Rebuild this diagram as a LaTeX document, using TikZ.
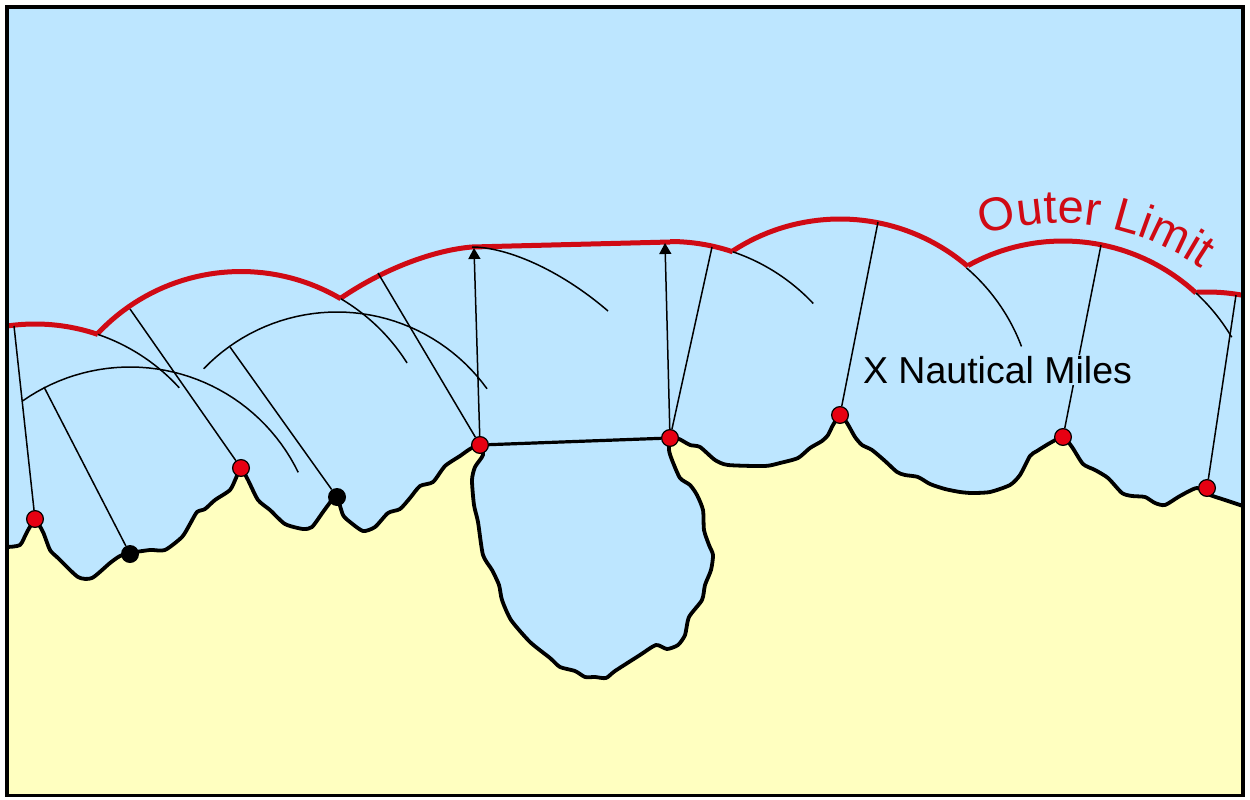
\documentclass[tikz,border=0pt]{standalone}
\usepackage{fontspec}
\setmainfont{Liberation Sans}
\usetikzlibrary{arrows.meta,decorations.text}
\definecolor{seablue}{HTML}{BDE6FF}
\definecolor{landyellow}{HTML}{FFFFC0}
\definecolor{limitred}{HTML}{D00A14}
\definecolor{ptred}{HTML}{E60012}
\newcommand{\capearc}[5]{plot[domain=#4:#5, samples=40] ({#1+#3*cos(\x)},{#2-#3*sin(\x)})}
\newcommand{\coastpts}{(7,547) (20,545) (27,532) (35,520) (43,532) (50,550) (58,558) (78,577) (92,578) (110,563) (120,556) (130,553) (150,550) (165,550) (182,537) (190,524) (197,512) (205,509) (215,500) (230,490) (236,478) (241,468) (248,480) (258,500) (270,510) (285,524) (303,529) (312,527) (323,512) (332,500) (337,497) (343,515) (350,522) (363,531) (375,527) (388,513) (400,509) (410,498) (420,486) (433,482) (445,466) (460,456) (470,449) (480,445) (483,455) (475,467) (472,480) (474,505) (478,522) (483,555) (492,570) (499,585) (502,600) (511,620) (530,642) (550,658) (560,667) (575,671) (585,677) (595,677) (606,678) (615,671) (640,655) (656,645) (667,649) (678,645) (685,635) (689,617) (702,600) (705,585) (711,570) (713,555) (709,545) (704,530) (703,510) (697,495) (690,485) (680,478) (672,460) (669,450) (670,438) (679,439) (690,445) (700,447) (715,460) (728,465) (765,466) (780,463) (798,458) (810,448) (822,441) (828,435) (833,425) (840,415) (847,423) (855,437) (862,445) (872,450) (885,461) (897,472) (905,475) (918,477) (930,484) (945,489) (960,492) (972,493) (990,492) (1010,485) (1020,475) (1030,456) (1037,451) (1050,443) (1063,437) (1072,447) (1083,464) (1095,470) (1108,478) (1122,493) (1132,496) (1145,497) (1155,503) (1165,505) (1180,496) (1197,488) (1210,495) (1225,500) (1243,506)}
\begin{document}
\begin{tikzpicture}[
            x=1pt, y=-1pt,
            coast/.style={draw=black, line width=3.8pt, line join=round, line cap=round},
            limit/.style={draw=limitred, line width=5pt, line join=round},
            thinline/.style={draw=black, line width=1.5pt},
            basept/.style={circle, draw=black, line width=1.2pt, fill=ptred, inner sep=0pt, minimum size=16.8pt},
            blackpt/.style={circle, fill=black, inner sep=0pt, minimum size=18pt},
            arr/.style={-{Triangle[length=11pt,width=12pt]}, thinline}
            ]
            \useasboundingbox (0,0) rectangle (1250,800);
            \fill[seablue] (7,7) rectangle (1243,795.5);

            \fill[landyellow] plot[smooth, tension=0.4] coordinates {\coastpts} -- (1243,795.5) -- (7,795.5) -- cycle;
            \draw[coast] plot[smooth, tension=0.4] coordinates {\coastpts};

            \draw[limit] \capearc{35}{519}{195}{71.2}{98};
            \draw[limit] \capearc{241}{468}{196.5}{59.5}{136.9};
            \draw[limit] (341,298) .. controls (385,268) and (435,250) .. (472,247) -- (670,242);
            \draw[limit] \capearc{670}{438}{196.5}{71.4}{90};
            \draw[limit] \capearc{840}{415}{196}{49.3}{123.1};
            \draw[limit] \capearc{1063}{437}{196}{47.3}{119};
            \draw[limit] \capearc{1207}{488}{196}{79.7}{92.9};

            \draw[thinline] \capearc{130}{554}{187}{25.9}{125};
            \draw[thinline] \capearc{35}{519}{195}{42.3}{71.2};
            \draw[thinline] \capearc{337}{497}{185}{35.8}{136.1};
            \draw[thinline] \capearc{241}{468}{196.5}{32.3}{59.5};
            \draw[thinline] (472,247) .. controls (505,247) and (558,268) .. (608,311);
            \draw[thinline] \capearc{670}{438}{196.5}{43.2}{71.4};
            \draw[thinline] \capearc{840}{415}{194}{20.7}{49.3};
            \draw[thinline] \capearc{1063}{437}{196}{30.6}{47.3};

            \node[basept] (red1) at (35,519) {};
            \node[blackpt] (blk1) at (130,554) {};
            \node[basept] (red2) at (241,468) {};
            \node[blackpt] (blk2) at (337,497) {};
            \node[basept] (red3) at (480,445) {};
            \node[basept] (red4) at (670,438) {};
            \node[basept] (red5) at (840,415) {};
            \node[basept] (red6) at (1063,437) {};
            \node[basept] (red7) at (1207,488) {};

            \coordinate (end1) at (14,326);
            \coordinate (end2) at (44,387);
            \coordinate (end3) at (130,309);
            \coordinate (end4) at (230,347);
            \coordinate (end5) at (378,273);
            \coordinate (end6) at (474,248);
            \coordinate (end7) at (665,243);
            \coordinate (end8) at (712,247);
            \coordinate (end9) at (878,222);
            \coordinate (end10) at (1101,245);
            \coordinate (end11) at (1236,295);

            \draw[thinline] (red1) -- (end1);
            \draw[thinline] (blk1) -- (end2);
            \draw[thinline] (red2) -- (end3);
            \draw[thinline] (blk2) -- (end4);
            \draw[thinline] (red3) -- (end5);
            \draw[arr] (red3) -- (end6);
            \draw[arr] (red4) -- (end7);
            \draw[thinline] (red4) -- (end8);
            \draw[thinline] (red5) -- (end9);
            \draw[thinline] (red6) -- (end10);
            \draw[thinline] (red7) -- (end11);
            \draw[line width=3.2pt] (red3) -- (red4);

            \node[fill=seablue, inner sep=1pt, font=\fontsize{37.5pt}{40pt}\selectfont] (miles) at (997.5,370) {X Nautical Miles};

            \path[decorate, decoration={text along path, text align=center,
                    text={|\fontsize{47pt}{49pt}\selectfont\color{limitred}|Outer Limit}}]
                (971,240) .. controls (1040,212) and (1130,215) .. (1212,276);

            \draw[line width=3.6pt] (7,7) rectangle (1243,795.5);
        \end{tikzpicture}
\end{document}
